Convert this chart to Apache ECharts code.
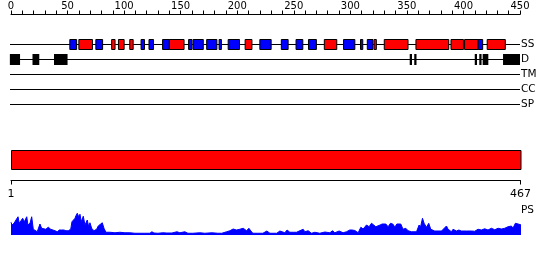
<!DOCTYPE html>
<html><head><meta charset="utf-8">
<script src="https://cdn.jsdelivr.net/npm/echarts@6/dist/echarts.min.js"></script>
<style>html,body{margin:0;padding:0;background:#fff}#c{width:550px;height:260px}</style>
</head><body><div id="c"></div>
<script>
// ---- data ----
const rulerMin = 0, rulerMax = 450, rulerStep = 50, rulerMinorSplit = 5;
const seqStart = 1, seqEnd = 467;
const seqTicks = [1, 467];
const trackNames = ['SS', 'D', 'TM', 'CC', 'SP'];
// secondary structure elements: [start, end, type]  H = helix (red), E = strand (blue)
const ssElements = [
  [52,58,'E'],[60,72,'H'],[75,81,'E'],[89,92,'H'],[95,100,'H'],[105,108,'H'],
  [115,118,'E'],[122,126,'E'],[134,140,'E'],[140,153,'H'],[157,160,'E'],[161,170,'E'],
  [173,182,'E'],[184,186,'E'],[192,202,'E'],[207,213,'H'],[220,230,'E'],[239,245,'E'],
  [252,258,'E'],[263,270,'E'],[277,288,'H'],[294,304,'E'],[309,311,'E'],[315,320,'E'],
  [321,323,'H'],[330,351,'H'],[358,387,'H'],[389,400,'H'],[401,413,'H'],[413,417,'E'],
  [421,437,'H']
];
// disordered regions: [start, end]
const disorder = [[-1,8],[19,25],[38,50],[352.5,354.5],[356.5,358.5],[410,412],[414,416],[417,422],[435,450]];
const domains = [[1, 467]];
// PS profile
const psPos = [0,0.9,2.7,4.4,6.2,7.3,8.8,10.3,11.8,13.9,15.0,16.8,18.3,19.7,21.2,23.2,25.6,27.1,28.5,30.7,
  33.0,35.1,36.8,38.9,40.9,42.7,44.8,46.8,48.6,50.6,52.8,53.9,55.0,56.6,57.4,58.6,59.8,61.0,62.1,63.9,
  65.4,67.4,68.7,69.8,71.3,73.3,75.7,77.1,78.6,80.7,82.2,83.9,87.5,91.9,96.3,100.7,105.1,109.6,114.0,118.4,
  122.8,124.6,126.4,129.9,134.3,137.8,142.3,146.7,149.3,153.7,156.4,160.8,167.0,171.4,177.6,182.9,186.4,190.6,193.5,196.4,
  199.4,200.8,202.3,203.8,205.3,208.3,210.3,212.1,213.8,218.3,222.7,226.2,228.9,235.0,236.2,237.7,242.1,244.1,246.5,249.4,
  252.4,253.9,258.3,259.8,262.7,265.7,268.6,273.0,277.5,281.9,284.3,286.3,290.1,293.6,296.6,299.5,301.6,304.0,306.9,309.3,
  311.3,314.3,316.6,318.7,320.7,322.5,324.0,326.3,328.1,329.8,331.4,333.4,335.5,337.8,339.3,341.1,342.8,344.6,346.6,349.0,
  351.1,354.1,358.5,360.8,362.0,363.8,365.2,367.3,369.3,371.1,374.6,380.6,385.0,386.4,389.4,390.8,393.8,395.9,398.2,402.7,
  407.1,410.0,412.9,415.9,418.8,421.7,424.7,427.7,430.6,433.6,436.5,439.4,442.4,443.8,445.9,447.4,449.1,451.2,453.3];
const psVal = [0.51,0.40,0.47,0.60,0.73,0.47,0.57,0.67,0.53,0.73,0.40,0.47,0.73,0.23,0.20,0.13,0.44,0.27,0.31,0.23,
  0.31,0.23,0.31,0.17,0.13,0.20,0.20,0.20,0.17,0.17,0.23,0.53,0.57,0.67,0.77,0.87,0.73,0.83,0.53,0.75,
  0.40,0.60,0.33,0.49,0.27,0.17,0.23,0.36,0.43,0.49,0.27,0.11,0.11,0.09,0.11,0.09,0.09,0.07,0.07,0.07,
  0.07,0.13,0.08,0.07,0.09,0.08,0.08,0.13,0.09,0.13,0.07,0.07,0.09,0.07,0.09,0.07,0.07,0.13,0.17,0.24,
  0.20,0.24,0.23,0.20,0.27,0.17,0.27,0.16,0.07,0.07,0.07,0.16,0.07,0.07,0.13,0.16,0.09,0.20,0.11,0.11,
  0.11,0.16,0.23,0.13,0.17,0.07,0.11,0.07,0.12,0.09,0.17,0.09,0.16,0.09,0.13,0.20,0.20,0.18,0.09,0.31,
  0.24,0.40,0.33,0.47,0.40,0.33,0.29,0.40,0.44,0.36,0.44,0.33,0.47,0.43,0.31,0.44,0.36,0.44,0.23,0.27,
  0.17,0.13,0.13,0.40,0.31,0.67,0.47,0.31,0.47,0.23,0.16,0.16,0.36,0.23,0.13,0.23,0.16,0.20,0.16,0.16,
  0.16,0.15,0.23,0.20,0.25,0.20,0.27,0.21,0.27,0.24,0.27,0.33,0.36,0.27,0.47,0.49,0.43,0.40,0.0];

// ---- chart ----
const FONT = 'DejaVu Sans';
const chart = echarts.init(document.getElementById('c'), null, {renderer: 'canvas'});

function trackLine(params, api) {
  const row = params.dataIndex;
  const a = api.coord([api.value(0), row]);
  const b = api.coord([api.value(1), row]);
  return {type: 'line', shape: {x1: a[0] - 1, y1: a[1], x2: b[0], y2: b[1]},
          style: {stroke: '#000', lineWidth: 1}};
}
function ssRect(params, api) {
  const a = api.coord([api.value(0), 0]);
  const b = api.coord([api.value(1), 0]);
  const t = ssElements[params.dataIndex][2];
  return {type: 'rect', shape: {x: a[0], y: a[1] - 5, width: b[0] - a[0], height: 10},
          style: {fill: t === 'H' ? '#ff0000' : '#0000ff', stroke: '#000', lineWidth: 1}};
}
function dRect(params, api) {
  const a = api.coord([api.value(0), 1]);
  const b = api.coord([api.value(1), 1]);
  return {type: 'rect', shape: {x: a[0], y: a[1] - 5.5, width: b[0] - a[0], height: 11},
          style: {fill: '#000'}};
}
function domRect(params, api) {
  const a = api.coord([api.value(0), 0]);
  const b = api.coord([api.value(1), 0]);
  const h = api.size([0, 1])[1];
  return {type: 'rect', shape: {x: a[0] + 0.5, y: a[1] - h / 2 + 0.5, width: b[0] - a[0], height: h - 1},
          style: {fill: '#ff0000', stroke: '#000', lineWidth: 1}};
}

chart.setOption({
  animation: false,
  textStyle: {fontFamily: FONT},
  grid: [
    {left: 11, top: 37, width: 509, height: 75},
    {left: 11, top: 150, width: 509.5, height: 20},
    {left: 11, top: 210, width: 509, height: 25}
  ],
  xAxis: [
    {gridIndex: 0, type: 'value', min: rulerMin, max: rulerMax, interval: rulerStep, position: 'top', offset: 22.5,
     axisLine: {show: true, lineStyle: {color: '#000', width: 1}},
     axisTick: {show: true, length: 4, lineStyle: {color: '#000'}},
     minorTick: {show: true, splitNumber: rulerMinorSplit, length: 4, lineStyle: {color: '#000'}},
     axisLabel: {margin: 3, fontSize: 10, color: '#000', fontFamily: FONT},
     splitLine: {show: false}, minorSplitLine: {show: false}},
    {gridIndex: 1, type: 'value', min: seqStart, max: seqEnd, position: 'bottom', offset: 10.5,
     axisLine: {show: true, lineStyle: {color: '#000', width: 1}},
     axisTick: {show: true, length: 4, customValues: seqTicks, lineStyle: {color: '#000'}},
     axisLabel: {margin: 8, fontSize: 11, color: '#000', fontFamily: FONT, customValues: seqTicks},
     splitLine: {show: false}},
    {gridIndex: 2, type: 'value', min: rulerMin, max: rulerMax, show: false}
  ],
  yAxis: [
    {gridIndex: 0, type: 'category', data: trackNames, inverse: true, position: 'right',
     axisLine: {show: false}, axisTick: {show: false}, splitLine: {show: false},
     axisLabel: {margin: 1, fontSize: 10.5, color: '#000', fontFamily: FONT}},
    {gridIndex: 1, type: 'category', data: ['domain'], show: false},
    {gridIndex: 2, type: 'value', min: 0, max: 1, show: false}
  ],
  graphic: [{type: 'text', left: 521, top: 205, style: {text: 'PS', fontSize: 10.5, fontFamily: FONT, fill: '#000'}}],
  series: [
    {type: 'custom', xAxisIndex: 0, yAxisIndex: 0, renderItem: trackLine, encode: {x: [0, 1]},
     data: trackNames.map(n => [rulerMin, rulerMax]), silent: true, z: 1},
    {type: 'custom', xAxisIndex: 0, yAxisIndex: 0, renderItem: ssRect, encode: {x: [0, 1]},
     data: ssElements.map(e => [e[0], e[1]]), z: 2},
    {type: 'custom', xAxisIndex: 0, yAxisIndex: 0, renderItem: dRect, encode: {x: [0, 1]},
     data: disorder, z: 2},
    {type: 'custom', xAxisIndex: 1, yAxisIndex: 1, renderItem: domRect, encode: {x: [0, 1]},
     data: domains, z: 2},
    {type: 'line', xAxisIndex: 2, yAxisIndex: 2, clip: false, symbol: 'none',
     data: psPos.map((p, i) => [p, psVal[i]]),
     lineStyle: {color: '#0000ff', width: 1}, areaStyle: {color: '#0000ff', opacity: 1}}
  ]
});
</script></body></html>
